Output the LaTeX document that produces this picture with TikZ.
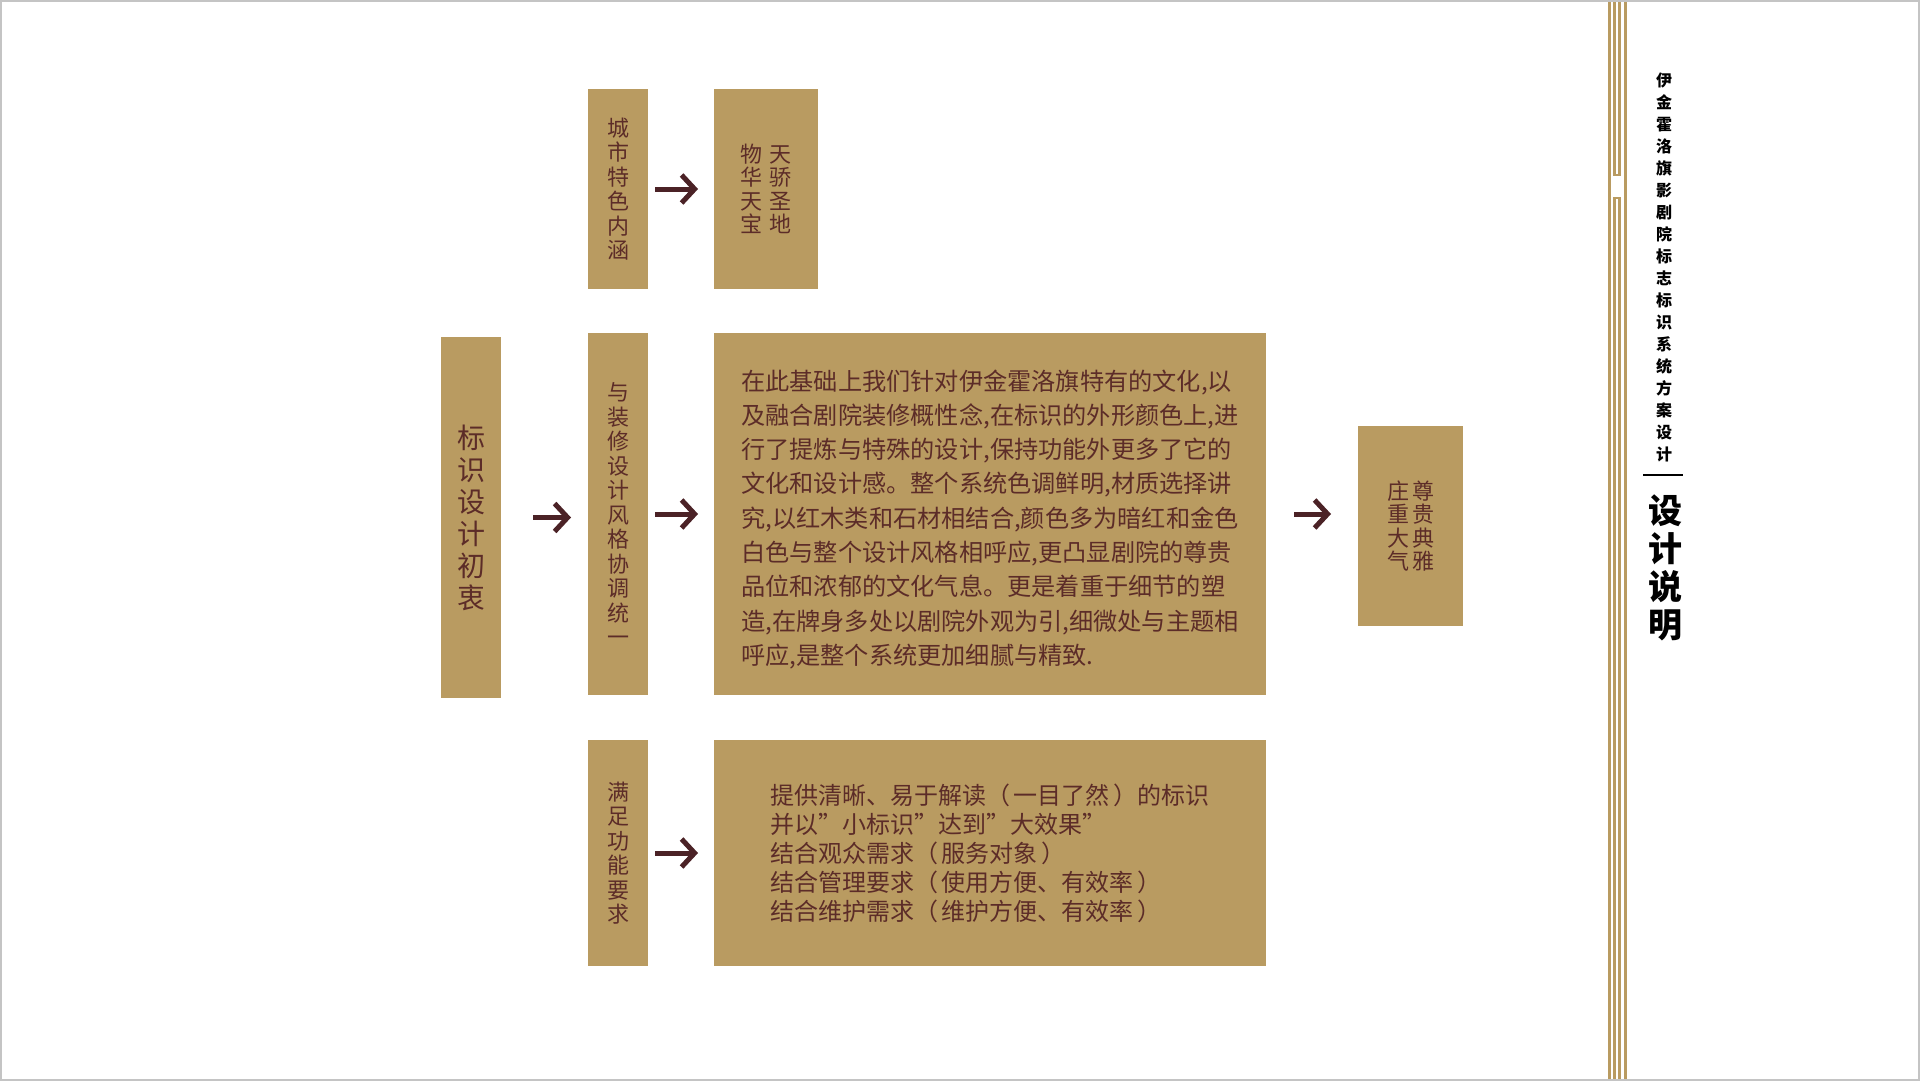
\documentclass[tikz,border=0pt]{standalone}
\usepackage{fontspec}
\usepackage{tikz}
\usetikzlibrary{arrows.meta}
\newfontfamily\cjk{Noto Sans CJK SC}
\definecolor{gold}{RGB}{185,155,97}
\definecolor{wordbrown}{RGB}{92,44,40}
\definecolor{arrowbrown}{RGB}{75,34,38}
\definecolor{framegray}{RGB}{196,196,196}
\newcommand{\lp}{（\hspace{4pt}}
\newcommand{\rp}{\hspace{4pt}）}

\begin{document}
\begin{tikzpicture}[x=1pt,y=-1pt]

  %Styles for picture
  \tikzset
  {
  goldbox/.style={rectangle, inner sep=0pt, outer sep=0pt, fill=gold, text=wordbrown, align=center},
  narrowbox/.style={goldbox, minimum width=60pt, font=\cjk\fontsize{22}{24.5}\selectfont},
  pairbox/.style={goldbox, minimum width=104pt, minimum height=200pt, font=\cjk\fontsize{22}{23.5}\selectfont},
  widebox/.style={goldbox, minimum width=552pt, align=left},
  flow/.style={->, line width=5pt, draw=arrowbrown},
  >={Straight Barb[length=13pt, width=28pt]},
  }

  %Page
  \useasboundingbox (0,0) rectangle (1920,1081);
  \fill[white] (0,0) rectangle (1920,1081);

  %Nodes
  \node[narrowbox, minimum height=361pt, font=\cjk\fontsize{28}{32}\selectfont] (aim) at (471,517.5) {标\\识\\设\\计\\初\\衷};
  \node[narrowbox, minimum height=200pt] (city) at (618,189) {城\\市\\特\\色\\内\\涵};
  \node[narrowbox, minimum height=362pt] (style) at (618,514) {与\\装\\修\\设\\计\\风\\格\\协\\调\\统\\一};
  \node[narrowbox, minimum height=226pt] (func) at (618,853) {满\\足\\功\\能\\要\\求};
  \node[pairbox] (motto) at (766,189) {物\hspace{8pt}天\\华\hspace{8pt}骄\\天\hspace{8pt}圣\\宝\hspace{8pt}地};
  \node[widebox, minimum height=362pt, font=\cjk\fontsize{24.2}{34.3}\selectfont] (detail) at (990,514)
    {\rule{0pt}{31pt}在此基础上我们针对伊金霍洛旗特有的文化,以\\
     及融合剧院装修概性念,在标识的外形颜色上,进\\
     行了提炼与特殊的设计,保持功能外更多了它的\\
     文化和设计感。整个系统色调鲜明,材质选择讲\\
     究,以红木类和石材相结合,颜色多为暗红和金色\\
     白色与整个设计风格相呼应,更凸显剧院的尊贵\\
     品位和浓郁的文化气息。更是着重于细节的塑\\
     造,在牌身多处以剧院外观为引,细微处与主题相\\
     呼应,是整个系统更加细腻与精致.};
  \node[widebox, minimum height=226pt, font=\cjk\fontsize{24}{29}\selectfont] (needs) at (990,853)
    {提供清晰、易于解读\lp 一目了然\rp 的标识\\
     并以”小标识”达到”大效果”\\
     结合观众需求\lp 服务对象\rp\\
     结合管理要求\lp 使用方便、有效率\rp\\
     结合维护需求\lp 维护方便、有效率\rp};
  \node[pairbox, minimum width=105pt] (result) at (1410.5,526) {庄\hspace{3pt}尊\\重\hspace{3pt}贵\\大\hspace{3pt}典\\气\hspace{3pt}雅};

  %Edges
  \draw[flow, shorten <=32pt, shorten >=17pt] (aim.east) -- (aim.east -| style.west);
  \draw[flow, shorten <=7pt, shorten >=16pt] (city.east) -- (motto.west);
  \draw[flow, shorten <=7pt, shorten >=16pt] (style.east) -- (detail.west);
  \draw[flow, shorten <=7pt, shorten >=16pt] (func.east) -- (needs.west);
  \draw[flow, shorten <=28pt, shorten >=27pt] (detail.east) -- (detail.east -| result.west);

  %Side band
  \draw[gold, line width=2.5pt] (1609.5,0) -- (1609.5,1081);
  \draw[gold, line width=2.5pt] (1625.5,0) -- (1625.5,1081);
  \draw[gold, line width=2.5pt] (1614.5,0) -- (1614.5,175) -- (1619.5,175) -- (1619.5,0);
  \draw[gold, line width=2.5pt] (1614.5,1081) -- (1614.5,198) -- (1619.5,198) -- (1619.5,1081);

  \node[font=\cjk\bfseries\fontsize{16}{22}\selectfont, align=center] (project) at (1664,267.5)
    {伊\\金\\霍\\洛\\旗\\影\\剧\\院\\标\\志\\标\\识\\系\\统\\方\\案\\设\\计};
  \draw[line width=1.5pt] (1643,475) -- (1683,475);
  \node[font=\cjk\bfseries\fontsize{34}{38}\selectfont, align=center] (title) at (1665,567.5) {设\\计\\说\\明};

  %Frame
  \draw[framegray, line width=2pt] (1,1) rectangle (1919,1080);
\end{tikzpicture}
\end{document}
